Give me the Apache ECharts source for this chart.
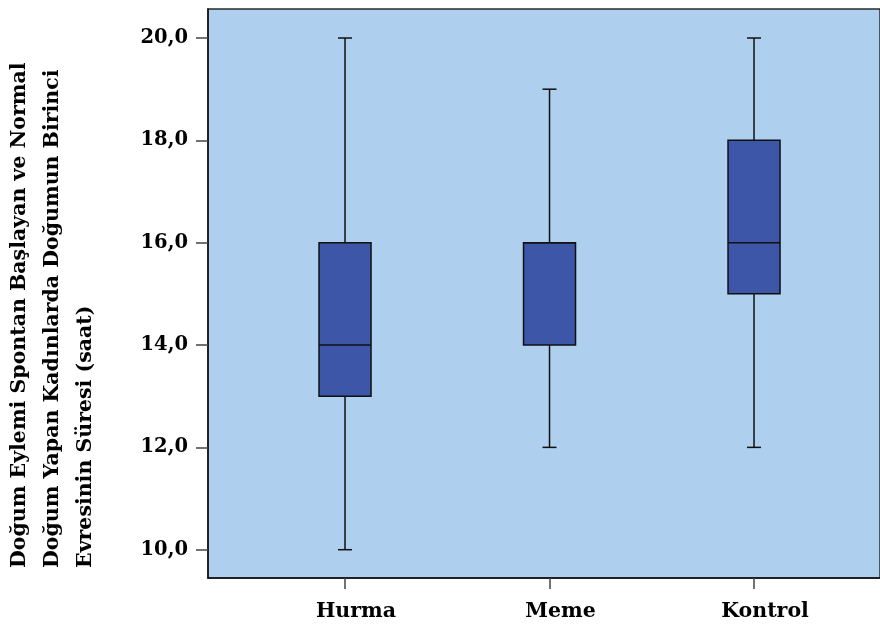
<!DOCTYPE html>
<html>
<head>
<meta charset="utf-8">
<script src="https://cdn.jsdelivr.net/npm/echarts@6/dist/echarts.min.js"></script>
<style>html,body{margin:0;padding:0;background:#fff}#c{width:880px;height:624px}</style>
</head>
<body>
<div id="c"></div>
<script>
var categories = ['Hurma', 'Meme', 'Kontrol'];
var whiskerLow = [10, 12, 12];
var q1 = [13, 14, 15];
var median = [14, 16, 16];
var q3 = [16, 16, 18];
var whiskerHigh = [20, 19, 20];
var yTicks = [10, 12, 14, 16, 18, 20];
var yTitleLines = ['Doğum Eylemi Spontan Başlayan ve Normal', 'Doğum Yapan Kadınlarda Doğumun Birinci', 'Evresinin Süresi (saat)'];

var data = categories.map(function (c, i) {
  return [i, whiskerLow[i], q1[i], median[i], q3[i], whiskerHigh[i]];
});

var FONT = 'DejaVu Serif';
var chart = echarts.init(document.getElementById('c'));
chart.setOption({
  animation: false,
  grid: { left: 208, top: 9, right: -1, bottom: 46, show: true, backgroundColor: '#AECFED', borderColor: '#2a2a2a', borderWidth: 1.5 },
  xAxis: {
    type: 'value', min: -0.67, max: 2.616,
    splitLine: { show: false },
    axisLine: { show: true, onZero: false, lineStyle: { color: '#111', width: 1.5 } },
    axisTick: { show: true, length: 11, customValues: [0, 1, 2], lineStyle: { color: '#444', width: 1.5 } },
    axisLabel: { customValues: [0, 1, 2], formatter: function (v) { return categories[Math.round(v)]; }, color: '#000', fontFamily: FONT, fontWeight: 'bold', fontSize: 20.5, margin: 23, padding: [0, 0, 0, 22] }
  },
  yAxis: {
    type: 'value', min: 9.447, max: 20.567,
    splitLine: { show: false },
    axisLine: { show: true, onZero: false, lineStyle: { color: '#111', width: 1.5 } },
    axisTick: { show: true, length: 12, customValues: yTicks, lineStyle: { color: '#444', width: 1.5 } },
    axisLabel: { customValues: yTicks, formatter: function (v) { return v.toFixed(1).replace('.', ','); }, color: '#000', fontFamily: FONT, fontWeight: 'bold', fontSize: 19.5, margin: 20 }
  },
  graphic: [{
    type: 'text', x: 53, y: 568, rotation: Math.PI / 2,
    style: { text: yTitleLines.join('\n'), fill: '#000', font: 'bold 20.5px "DejaVu Serif"', textAlign: 'left', textVerticalAlign: 'middle', lineHeight: 33 }
  }],
  series: [{
    type: 'custom',
    data: data,
    encode: { x: 0, y: [1, 2, 3, 4, 5] },
    renderItem: function (params, api) {
      var x = api.value(0);
      var pLow = api.coord([x, api.value(1)]);
      var pQ1 = api.coord([x, api.value(2)]);
      var pMed = api.coord([x, api.value(3)]);
      var pQ3 = api.coord([x, api.value(4)]);
      var pHigh = api.coord([x, api.value(5)]);
      var cx = pLow[0];
      var bw = 52, cw = 14;
      var ls = { stroke: '#111', lineWidth: 1.5 };
      return {
        type: 'group',
        children: [
          { type: 'line', shape: { x1: cx, y1: pHigh[1], x2: cx, y2: pQ3[1] }, style: ls },
          { type: 'line', shape: { x1: cx, y1: pQ1[1], x2: cx, y2: pLow[1] }, style: ls },
          { type: 'line', shape: { x1: cx - cw / 2, y1: pHigh[1], x2: cx + cw / 2, y2: pHigh[1] }, style: ls },
          { type: 'line', shape: { x1: cx - cw / 2, y1: pLow[1], x2: cx + cw / 2, y2: pLow[1] }, style: ls },
          { type: 'rect', shape: { x: cx - bw / 2, y: pQ3[1], width: bw, height: pQ1[1] - pQ3[1] }, style: { fill: '#3D56A8', stroke: '#111', lineWidth: 1.5 } },
          { type: 'line', shape: { x1: cx - bw / 2, y1: pMed[1], x2: cx + bw / 2, y2: pMed[1] }, style: ls }
        ]
      };
    }
  }]
});
</script>
</body>
</html>
